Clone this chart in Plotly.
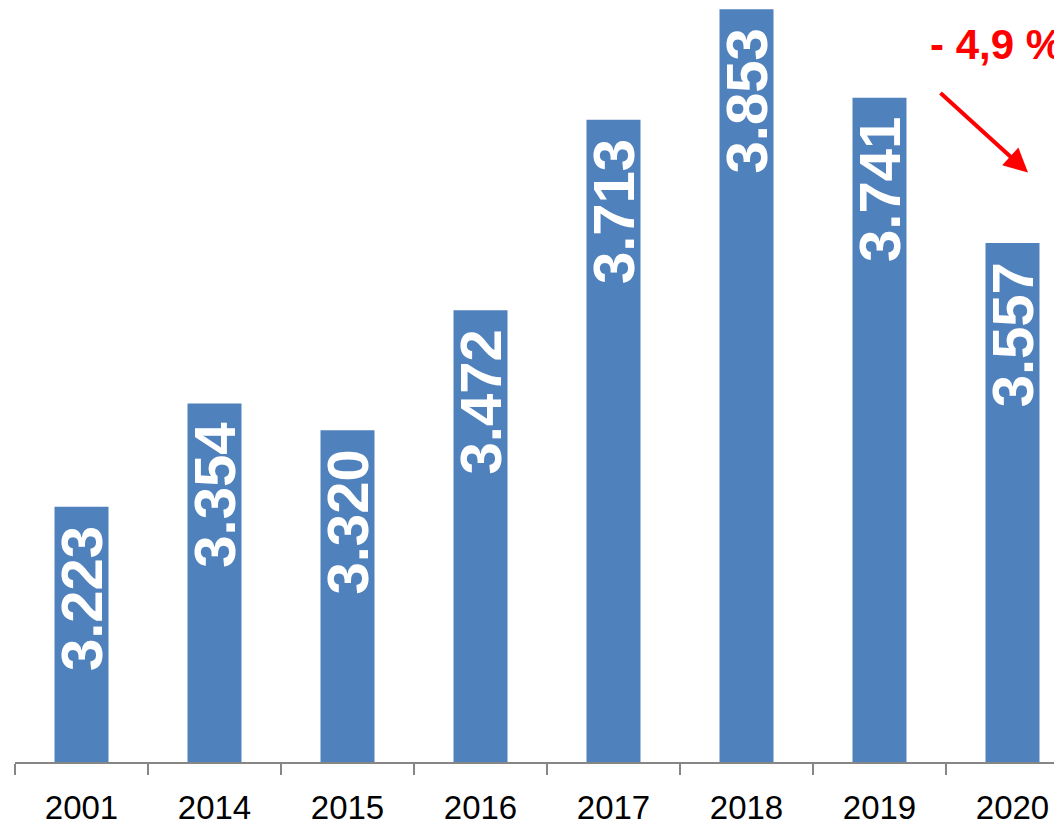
import plotly.graph_objects as go

years = ["2001", "2014", "2015", "2016", "2017", "2018", "2019", "2020"]
values = [3223, 3354, 3320, 3472, 3713, 3853, 3741, 3557]
change_label = "- 4,9 %"

# page body has an 8px margin; compensate so the screenshot matches
OFF = 8
FIG_W, FIG_H = 1062 - OFF, 826 - OFF
L = 15 - OFF
BASE = 764 - OFF  # baseline in figure coords
PLOT_W = FIG_W - L


def px(X):
    return (X - OFF - L) / PLOT_W


def py(Y):
    return (BASE - (Y - OFF)) / BASE


fig = go.Figure(
    go.Bar(
        x=years,
        y=values,
        marker=dict(color="#4F81BD", line=dict(width=0)),
        texttemplate="%{y:,.0f}\u00a0",
        textposition="inside",
        insidetextanchor="end",
        textangle=-90,
        constraintext="none",
        textfont=dict(family="Liberation Sans", size=58, color="white", weight="bold"),
        cliponaxis=False,
    )
)

fig.update_layout(
    width=FIG_W,
    height=FIG_H,
    margin=dict(l=L, r=0, t=0, b=FIG_H - BASE),
    plot_bgcolor="white",
    paper_bgcolor="white",
    bargap=0.594,
    separators=",.",
    showlegend=False,
    font=dict(family="Liberation Sans"),
)

fig.update_xaxes(
    type="category",
    range=[-0.5, -0.5 + PLOT_W / 133.0],
    showline=True,
    linecolor="#868686",
    linewidth=2,
    ticks="outside",
    tickson="boundaries",
    ticklen=11,
    tickwidth=2,
    tickcolor="#868686",
    tickfont=dict(family="Liberation Sans", size=33, color="black"),
    ticklabelstandoff=15,
    showgrid=False,
    zeroline=False,
)
fig.update_yaxes(
    range=[2900, 2900 + BASE / 0.792],
    visible=False,
    showgrid=False,
    zeroline=False,
)

fig.add_annotation(
    xref="paper", yref="paper",
    x=px(928), y=py(45),
    xanchor="left", yanchor="middle",
    text=change_label,
    showarrow=False,
    font=dict(family="Liberation Sans", size=42, color="#FF0000", weight="bold"),
)
fig.add_annotation(
    xref="paper", yref="paper",
    x=px(1028), y=py(173),
    text="",
    showarrow=True,
    axref="pixel", ayref="pixel",
    ax=-89, ay=-81,
    arrowhead=2,
    arrowsize=1.2,
    arrowwidth=4,
    arrowcolor="#FF0000",
    standoff=0,
)

fig.write_html("out.html")
